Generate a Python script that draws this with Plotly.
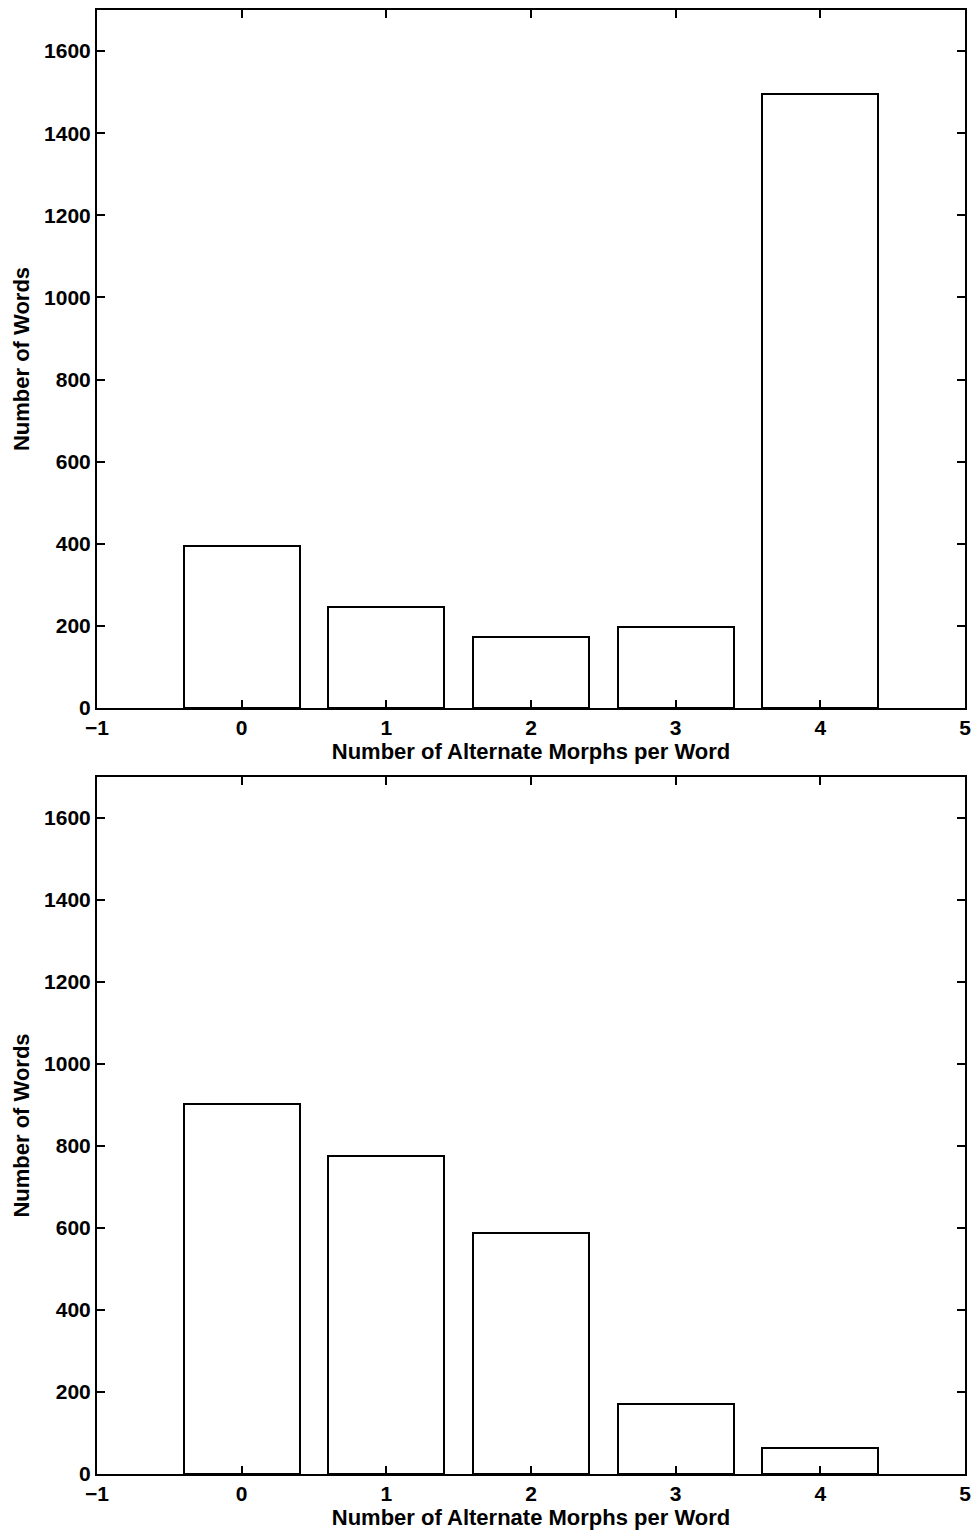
import plotly.graph_objects as go
from plotly.subplots import make_subplots

categories = [0, 1, 2, 3, 4]
top_values = [395, 246, 173, 197, 1496]
bottom_values = [902, 776, 588, 171, 63]
x_ticks = [-1, 0, 1, 2, 3, 4, 5]
x_tick_labels = ["\u22121", "0", "1", "2", "3", "4", "5"]
y_ticks = [0, 200, 400, 600, 800, 1000, 1200, 1400, 1600]

W, H = 976, 1536
fig = make_subplots(rows=2, cols=1)

for i, vals in enumerate([top_values, bottom_values], start=1):
    fig.add_trace(go.Bar(x=categories, y=vals, width=0.8,
                         marker=dict(color="white", line=dict(color="black", width=2)),
                         showlegend=False), row=i, col=1)

FAM = "Liberation Sans, Arial, sans-serif"
tickfont = dict(family=FAM, size=21, color="black", weight="bold")
titlefont = dict(family=FAM, size=22, color="black", weight="bold")
axis_common = dict(showline=True, linecolor="black", linewidth=2, mirror="ticks",
                   ticks="inside", ticklen=8, tickwidth=1.5, tickcolor="black",
                   showgrid=False, zeroline=False, tickfont=tickfont, automargin=False)

def py(p):
    return 1 - p / H

xa = dict(domain=[97 / W, 965 / W], range=[-1, 5], tickvals=x_ticks, ticktext=x_tick_labels,
          **axis_common, ticklabelstandoff=0,
          title=dict(text="Number of Alternate Morphs per Word", font=titlefont, standoff=5))
ya = dict(range=[0, 1700], tickvals=y_ticks, **axis_common, ticklabelstandoff=0,
          title=dict(text="Number of Words", font=titlefont, standoff=8))

fig.update_layout(
    width=W, height=H, margin=dict(l=0, r=0, t=0, b=0),
    plot_bgcolor="white", paper_bgcolor="white", bargap=0,
    xaxis=xa, xaxis2=xa,
    yaxis=dict(domain=[py(708), py(10)], **ya),
    yaxis2=dict(domain=[py(1474), py(777)], **ya),
)

fig.write_html("out.html")
